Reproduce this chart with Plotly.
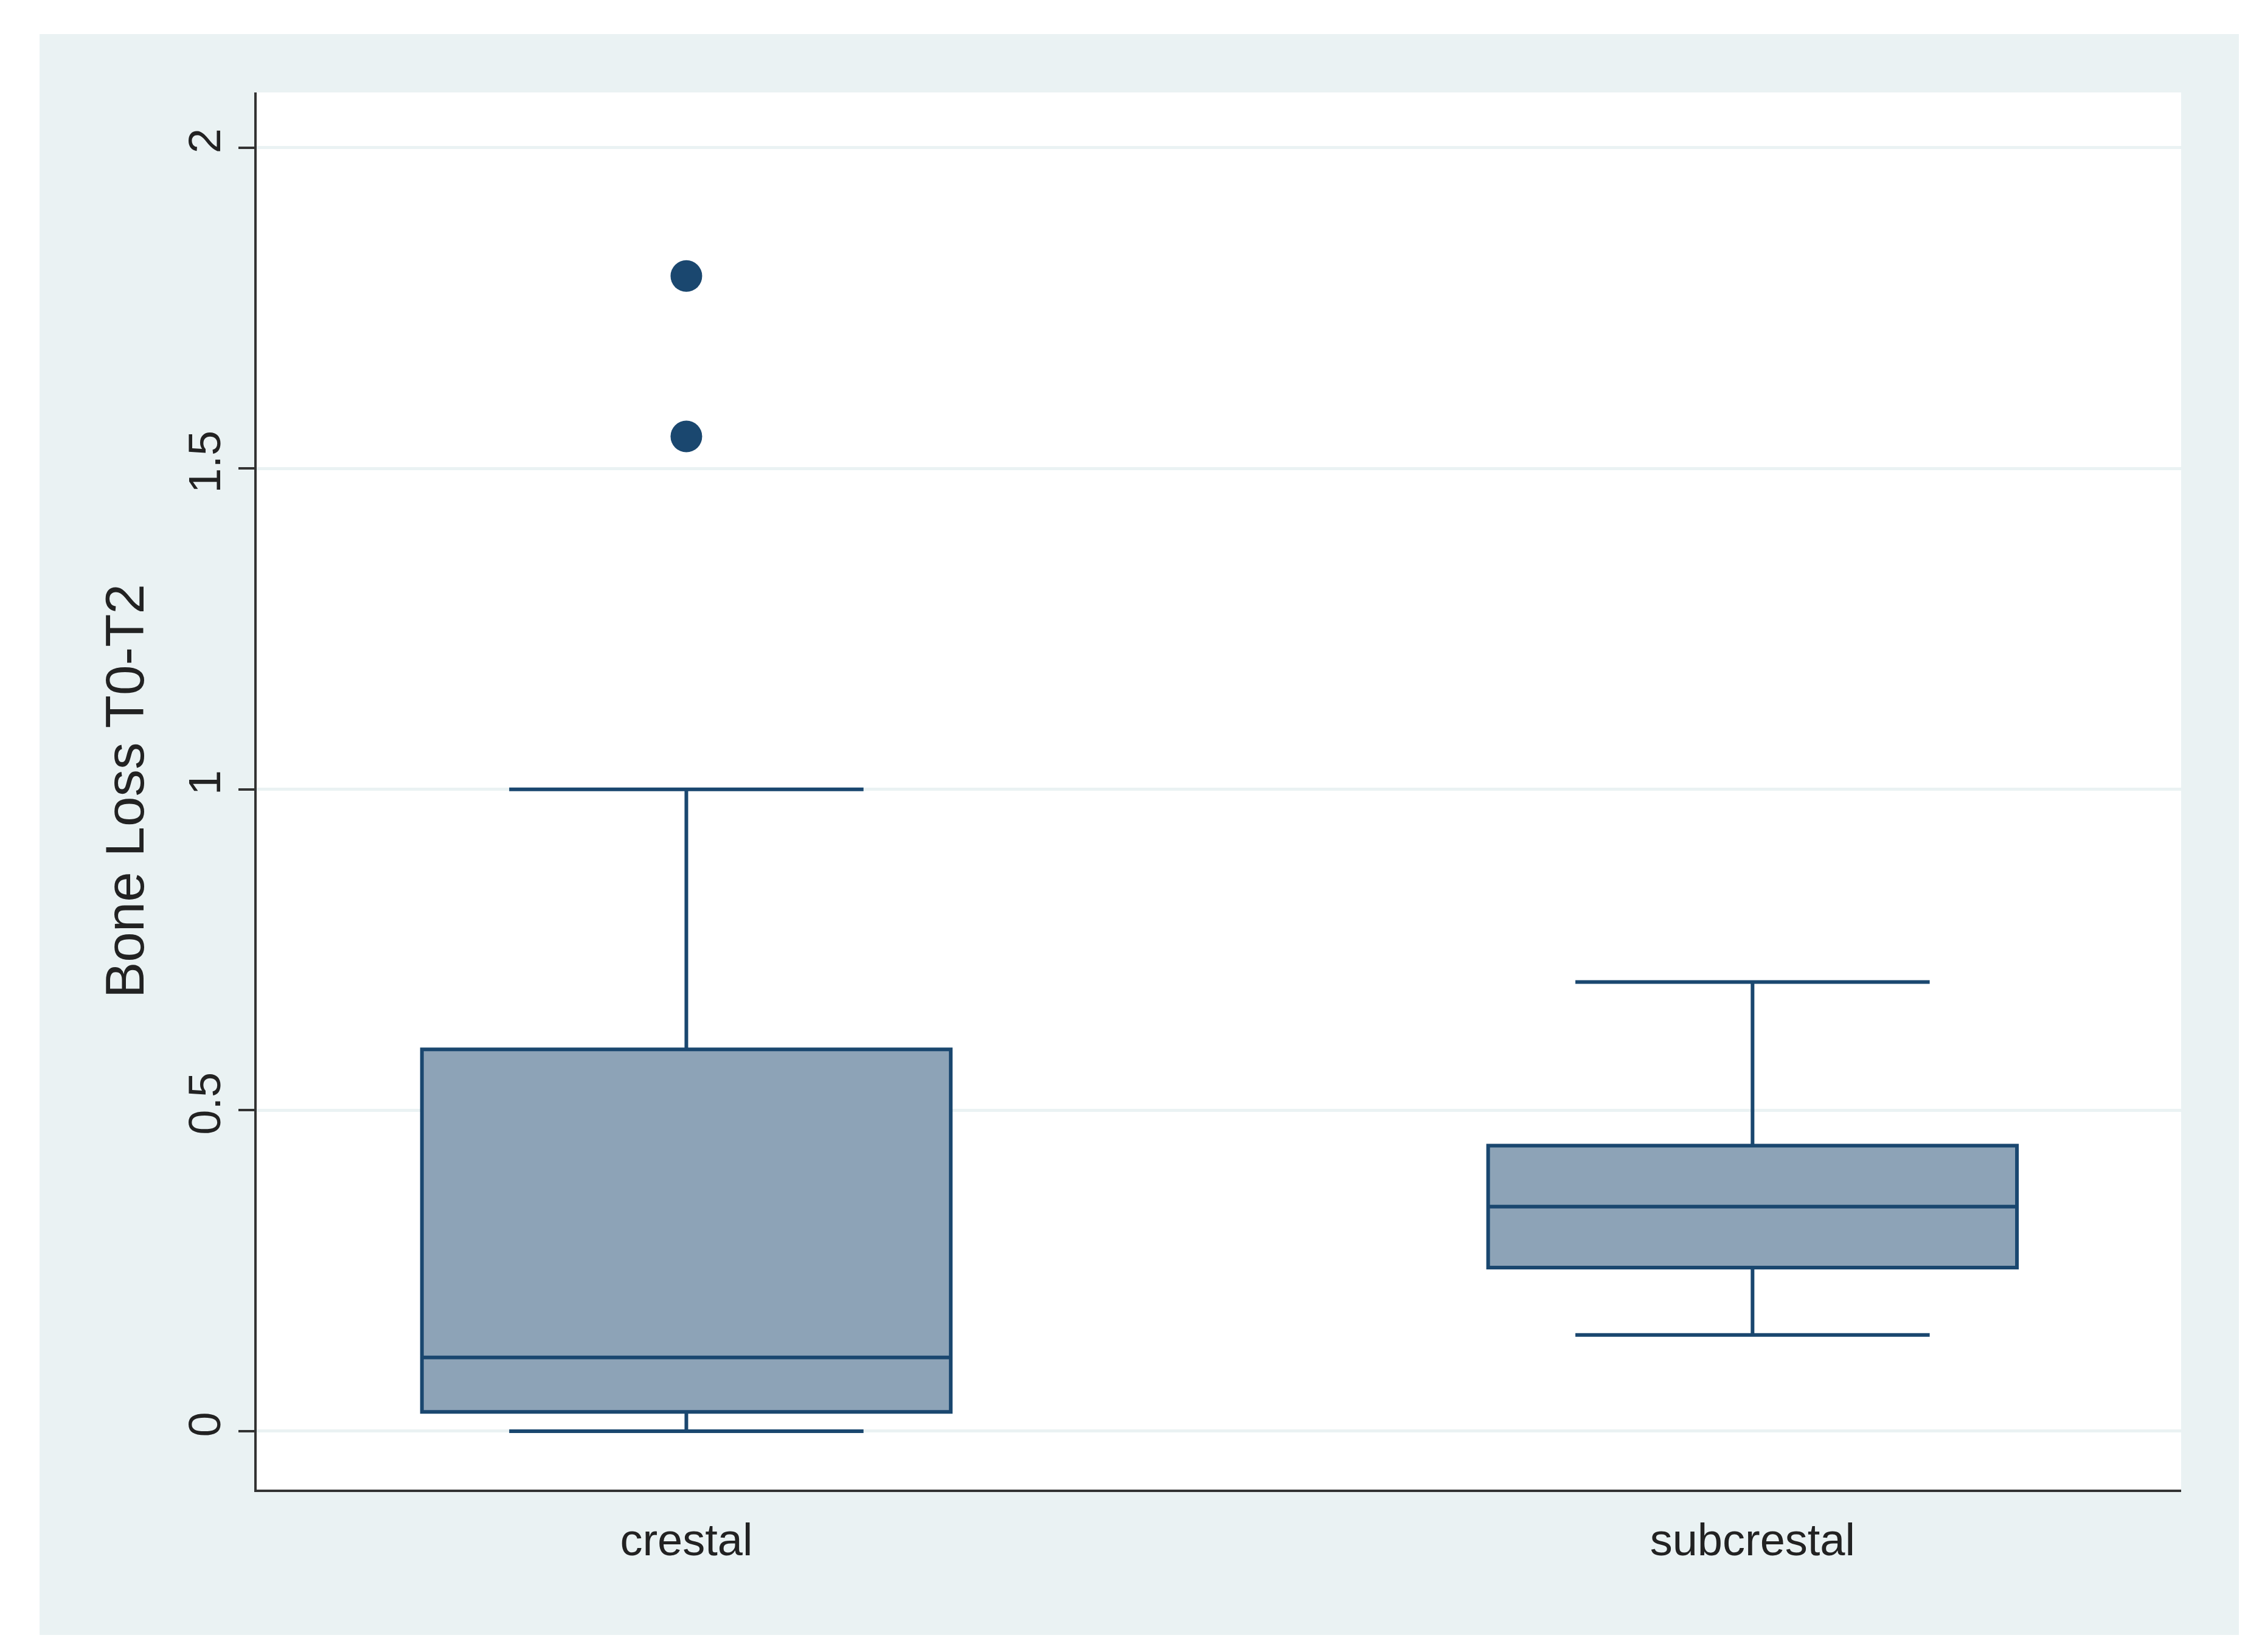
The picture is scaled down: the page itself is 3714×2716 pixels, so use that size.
import plotly.graph_objects as go

groups = ["crestal", "subcrestal"]
q1 = [0.03, 0.255]
median = [0.115, 0.35]
q3 = [0.595, 0.445]
lower = [0.0, 0.15]
upper = [1.0, 0.70]
outlier_group = ["crestal", "crestal"]
outlier_vals = [1.55, 1.8]

fig = go.Figure()
fig.add_trace(go.Box(
    x=groups, q1=q1, median=median, q3=q3,
    lowerfence=lower, upperfence=upper,
    width=0.496, whiskerwidth=0.67,
    fillcolor="#8DA3B7", line=dict(color="#1A476F", width=6),
    boxpoints=False, hoverinfo="y",
))
fig.add_trace(go.Scatter(
    x=outlier_group, y=outlier_vals, mode="markers",
    marker=dict(color="#1A476F", size=52),
))

# light outer panel behind the plot (Stata style), white plot region on top
fig.add_shape(type="rect", xref="paper", yref="paper",
              x0=-0.1128, x1=1.030, y0=-0.104, y1=1.0418,
              fillcolor="#EAF2F3", line_width=0, layer="below")
fig.add_shape(type="rect", xref="paper", yref="paper",
              x0=0, x1=1, y0=0, y1=1,
              fillcolor="white", line_width=0, layer="below")

fig.update_layout(
    width=3714, height=2716,
    margin=dict(l=414, r=136, t=144, b=275),
    paper_bgcolor="white", plot_bgcolor="white",
    showlegend=False,
    font=dict(family="Liberation Sans, Arial", size=74, color="#222"),
)
fig.update_xaxes(
    range=[-0.403, 1.402], showline=True, linecolor="#333", linewidth=4,
    showgrid=False, ticks="", ticklabelstandoff=15,
)
fig.update_yaxes(
    range=[-0.091, 2.086], tickvals=[0, 0.5, 1, 1.5, 2],
    ticktext=["0", "0.5", "1", "1.5", "2"], tickangle=-90,
    showline=True, linecolor="#333", linewidth=4,
    ticks="outside", ticklen=26, tickwidth=4, tickcolor="#333",
    gridcolor="#EAF2F3", gridwidth=5, zeroline=False,
    title=dict(text="Bone Loss T0-T2", standoff=30),
)

fig.write_html("out.html")
